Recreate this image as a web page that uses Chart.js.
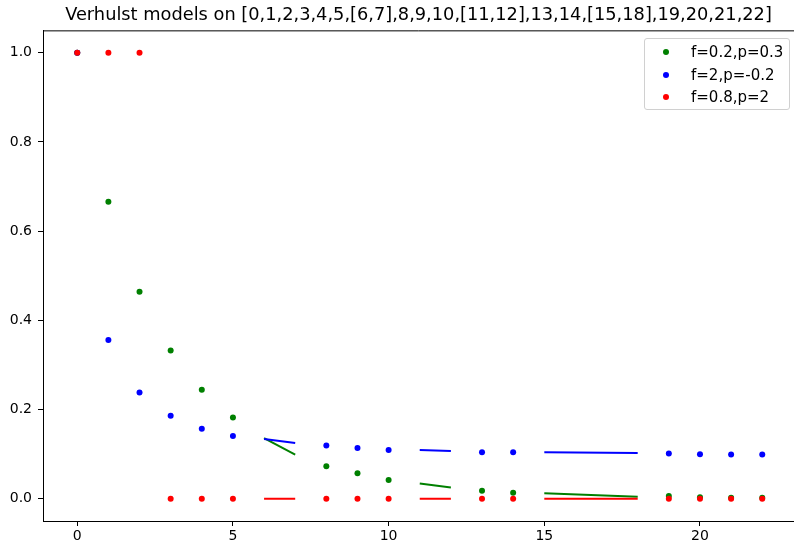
<!DOCTYPE html>
<html>
<head>
<meta charset="utf-8">
<script src="https://cdn.jsdelivr.net/npm/chart.js@4/dist/chart.umd.min.js"></script>
<style>
    body { margin: 0; background: #fff; }
    #wrap { position: relative; width: 794px; height: 544px; }
    #legend {
        position: absolute; left: 644px; top: 38px; width: 144px; height: 70px;
        border: 1px solid #d0d0d0; border-radius: 3px; background: rgba(255,255,255,0.8);
        font-family: "DejaVu Sans", sans-serif; font-size: 15px; color: #000;
    }
    .item { position: absolute; left: 0; height: 18px; line-height: 18px; }
    .dot { position: absolute; left: 18px; top: 6px; width: 6px; height: 6px; border-radius: 50%; }
    .lbl { position: absolute; left: 46px; top: 0; white-space: nowrap; }
</style>
</head>
<body>
<div id="wrap">
    <canvas id="chart" width="794" height="544"></canvas>
    <div id="legend"></div>
</div>
<script>
// sample positions (single points) and segments
const xPoints = [0, 1, 2, 3, 4, 5, 8, 9, 10, 13, 14, 19, 20, 21, 22];
const greenPoints = [1.0, 0.666, 0.464, 0.332, 0.244, 0.182, 0.0725, 0.057, 0.042, 0.018, 0.0135, 0.006, 0.003, 0.002, 0.002];
const bluePoints = [1.0, 0.356, 0.238, 0.186, 0.157, 0.1405, 0.119, 0.1136, 0.109, 0.104, 0.104, 0.1016, 0.0994, 0.099, 0.099];
const redPoints = [1, 1, 1, 0, 0, 0, 0, 0, 0, 0, 0, 0, 0, 0, 0];

const segX = [[6, 7], [11, 12], [15, 18]];
const greenSeg = [[0.136, 0.099], [0.034, 0.025], [0.012, 0.0045]];
const blueSeg = [[0.134, 0.125], [0.109, 0.107], [0.104, 0.1024]];
const redSeg = [[0, 0], [0, 0], [0, 0]];

const xTicks = [0, 5, 10, 15, 20];
const yTicks = [0, 0.2, 0.4, 0.6, 0.8, 1.0];

const series = [
    { label: 'f=0.8,p=2', color: '#ff0000', pts: redPoints, seg: redSeg },
    { label: 'f=2,p=-0.2', color: '#0000ff', pts: bluePoints, seg: blueSeg },
    { label: 'f=0.2,p=0.3', color: '#008000', pts: greenPoints, seg: greenSeg }
];

const FONT = '"DejaVu Sans", sans-serif';

// red first so it is drawn on top (like matplotlib's last plot call)
const datasets = [];
series.forEach(s => {
    datasets.push({
        label: s.label,
        data: xPoints.map((x, i) => ({ x: x, y: s.pts[i] })),
        showLine: false,
        pointRadius: 3,
        pointHoverRadius: 3,
        pointBorderWidth: 0,
        backgroundColor: s.color,
        borderColor: s.color
    });
});
series.forEach(s => {
    segX.forEach((xs, j) => {
        datasets.push({
            label: '',
            data: xs.map((x, k) => ({ x: x, y: s.seg[j][k] })),
            showLine: true,
            pointRadius: 0,
            borderWidth: 2,
            borderColor: s.color,
            backgroundColor: s.color
        });
    });
});

const frame = {
    id: 'frame',
    afterDraw(chart) {
        const { ctx, chartArea } = chart;
        ctx.save();
        ctx.strokeStyle = '#000';
        ctx.lineWidth = 1;
        ctx.beginPath();
        ctx.moveTo(chartArea.left, chartArea.top + 0.5);
        ctx.lineTo(chartArea.right, chartArea.top + 0.5);
        ctx.stroke();
        ctx.restore();
    }
};

new Chart(document.getElementById('chart'), {
    type: 'scatter',
    data: { datasets: datasets },
    options: {
        responsive: false,
        animation: false,
        layout: { autoPadding: false, padding: { left: 0, right: 0, top: 0, bottom: 0 } },
        plugins: {
            legend: { display: false },
            tooltip: { enabled: false },
            title: {
                display: true,
                fullSize: false,
                text: 'Verhulst models on [0,1,2,3,4,5,[6,7],8,9,10,[11,12],13,14,[15,18],19,20,21,22]',
                color: '#000',
                font: { family: FONT, size: 17.8, weight: 'normal', lineHeight: 1.2 },
                padding: { top: 5, bottom: 4 }
            }
        },
        scales: {
            x: {
                type: 'linear',
                min: -1.1,
                max: 23.02,
                afterBuildTicks: scale => { scale.ticks = xTicks.map(v => ({ value: v })); },
                afterFit: scale => { scale.height = 23; },
                grid: { drawOnChartArea: false, drawTicks: true, tickLength: 5, color: '#000' },
                border: { display: true, color: '#000', width: 1 },
                ticks: {
                    color: '#000',
                    padding: 2,
                    maxRotation: 0,
                    font: { family: FONT, size: 14 },
                    callback: v => String(v)
                }
            },
            y: {
                type: 'linear',
                min: -0.05,
                max: 1.05,
                afterBuildTicks: scale => { scale.ticks = yTicks.map(v => ({ value: v })); },
                afterFit: scale => { scale.width = 43; },
                grid: { drawOnChartArea: false, drawTicks: true, tickLength: 5, color: '#000' },
                border: { display: true, color: '#000', width: 1 },
                ticks: {
                    color: '#000',
                    padding: 6,
                    font: { family: FONT, size: 14 },
                    callback: v => Number(v).toFixed(1)
                }
            }
        }
    },
    plugins: [frame]
});

// legend box inside the axes, top right (matplotlib order)
const legendEl = document.getElementById('legend');
series.slice().reverse().forEach((s, i) => {
    const item = document.createElement('div');
    item.className = 'item';
    item.style.top = (4 + i * 22.5) + 'px';
    item.innerHTML = '<span class="dot" style="background:' + s.color + '"></span><span class="lbl">' + s.label + '</span>';
    legendEl.appendChild(item);
});
</script>
</body>
</html>
